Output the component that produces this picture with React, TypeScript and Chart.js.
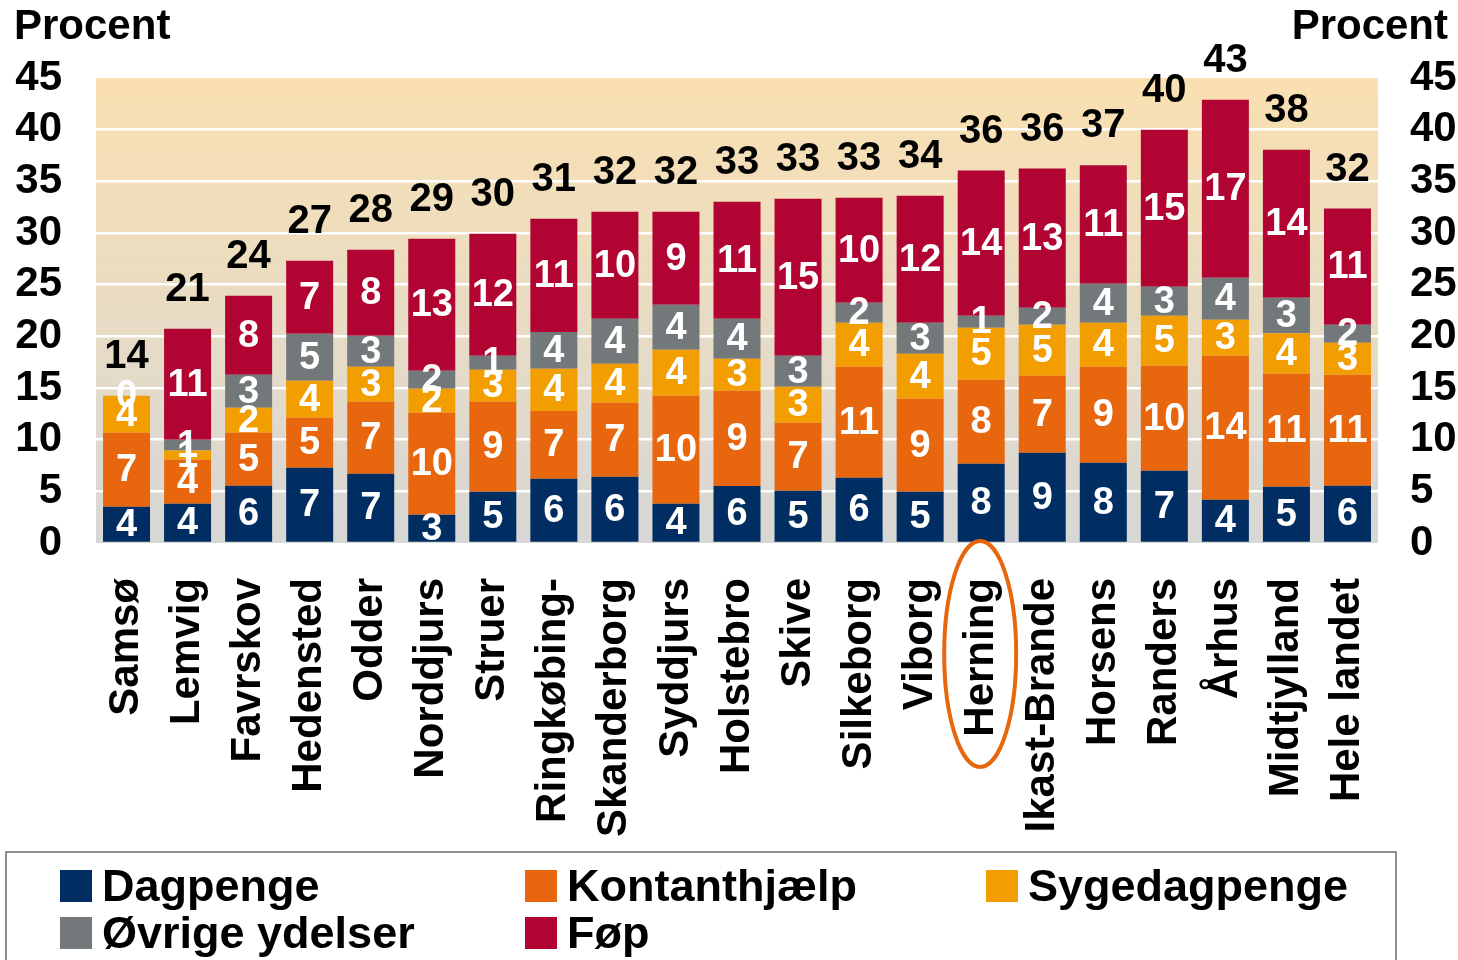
import React, { useEffect, useRef } from 'react';
import { Chart, registerables } from 'chart.js';

Chart.register(...registerables);

const categories = ['Samsø', 'Lemvig', 'Favrskov', 'Hedensted', 'Odder', 'Norddjurs', 'Struer', 'Ringkøbing-', 'Skanderborg', 'Syddjurs', 'Holstebro', 'Skive', 'Silkeborg', 'Viborg', 'Herning', 'Ikast-Brande', 'Horsens', 'Randers', 'Århus', 'Midtjylland', 'Hele landet'];
const dagpenge = [3.52, 3.8, 5.55, 7.29, 6.71, 2.74, 4.97, 6.22, 6.42, 3.8, 5.52, 5.06, 6.32, 4.97, 7.67, 8.74, 7.77, 7.0, 4.19, 5.45, 5.55];
const kontanthjaelp = [7.15, 4.26, 5.12, 4.84, 6.97, 9.87, 8.71, 6.55, 7.16, 10.45, 9.22, 6.58, 10.74, 9.0, 8.13, 7.45, 9.29, 10.16, 13.94, 10.94, 10.74];
const sygedagpenge = [3.58, 0.9, 2.42, 3.58, 3.38, 2.32, 3.09, 4.1, 3.77, 4.45, 3.1, 3.49, 4.26, 4.35, 5.03, 4.94, 4.26, 4.84, 3.48, 3.9, 3.1];
const oevrige = [0, 1.04, 3.2, 4.55, 3.0, 1.75, 1.36, 3.55, 4.35, 4.36, 3.86, 3.0, 1.94, 3.0, 1.17, 1.64, 3.78, 2.81, 4.07, 3.45, 1.74];
const foep = [null, 10.74, 7.64, 7.06, 8.33, 12.77, 11.8, 10.96, 10.36, 9.0, 11.33, 15.19, 10.16, 12.29, 14.04, 13.47, 11.45, 15.19, 17.22, 14.32, 11.23];
const seriesNames = ['Dagpenge', 'Kontanthjælp', 'Sygedagpenge', 'Øvrige ydelser', 'Føp'];
const seriesColors = ['#002E62', '#E8670E', '#F39E00', '#73787B', '#B20433'];
const yMin = 0;
const yMax = 45;
const yStep = 5;
const axisTitle = 'Procent';
const highlighted = 'Herning';

const FONT = "'Liberation Sans', Arial, Helvetica, sans-serif";

export default function App() {
  const ref = useRef<HTMLCanvasElement | null>(null);

  useEffect(() => {
    if (!ref.current) return;
    const seriesData = [dagpenge, kontanthjaelp, sygedagpenge, oevrige, foep];

    const bgPlugin = {
      id: 'bgPlugin',
      beforeDraw(chart: any) {
        const { ctx, chartArea } = chart;
        const { left, right, top, bottom } = chartArea;
        ctx.save();
        ctx.fillStyle = '#ffffff';
        ctx.fillRect(0, 0, chart.width, chart.height);
        const g = ctx.createLinearGradient(0, top, 0, bottom);
        g.addColorStop(0, '#FAE0B1');
        g.addColorStop(1, '#D7D7D6');
        ctx.fillStyle = g;
        ctx.fillRect(left, top, right - left, bottom - top);
        ctx.restore();
      },
    };

    const labelPlugin = {
      id: 'labelPlugin',
      afterDatasetsDraw(chart: any) {
        const { ctx } = chart;
        ctx.save();
        ctx.textAlign = 'center';
        ctx.textBaseline = 'middle';
        ctx.fillStyle = '#ffffff';
        ctx.font = `bold 38px ${FONT}`;
        chart.data.datasets.forEach((ds: any, di: number) => {
          const meta = chart.getDatasetMeta(di);
          meta.data.forEach((bar: any, i: number) => {
            const v = ds.data[i];
            if (v == null) return;
            const p = bar.getProps(['x', 'y', 'base'], true);
            ctx.fillText(String(Math.round(v)), p.x, (p.y + p.base) / 2 + 1);
          });
        });
        // totals
        ctx.fillStyle = '#000000';
        ctx.font = `bold 40px ${FONT}`;
        const yScale = chart.scales.y;
        const xScale = chart.scales.x;
        chart.data.labels.forEach((_: any, i: number) => {
          let tot = 0;
          chart.data.datasets.forEach((ds: any) => {
            const v = ds.data[i];
            if (v != null) tot += v;
          });
          const x = xScale.getPixelForValue(i);
          const y = yScale.getPixelForValue(tot);
          ctx.fillText(String(Math.round(tot)), x, y - 39);
        });
        ctx.restore();
      },
    };

    const overlayPlugin = {
      id: 'overlayPlugin',
      afterDraw(chart: any) {
        const { ctx } = chart;
        ctx.save();
        // axis titles
        ctx.fillStyle = '#000000';
        ctx.font = `bold 42px ${FONT}`;
        ctx.textBaseline = 'alphabetic';
        ctx.textAlign = 'left';
        ctx.fillText(axisTitle, 14, 39);
        ctx.textAlign = 'right';
        ctx.fillText(axisTitle, 1448, 39);

        // highlight ellipse
        const idx = chart.data.labels.indexOf(highlighted);
        if (idx >= 0) {
          const x = chart.scales.x.getPixelForValue(idx);
          ctx.strokeStyle = '#E8670E';
          ctx.lineWidth = 4;
          ctx.beginPath();
          ctx.ellipse(x - 1, 654, 36, 113, 0, 0, Math.PI * 2);
          ctx.stroke();
        }

        // legend box
        ctx.strokeStyle = '#6b6b6b';
        ctx.lineWidth = 1.5;
        ctx.strokeRect(6, 852, 1390, 140);

        const cols = [60, 525, 986];
        const rows = [870, 917];
        ctx.font = `bold 45px ${FONT}`;
        ctx.textAlign = 'left';
        ctx.textBaseline = 'alphabetic';
        chart.data.datasets.forEach((ds: any, i: number) => {
          const c = cols[i % 3];
          const r = rows[Math.floor(i / 3)];
          ctx.fillStyle = ds.backgroundColor;
          ctx.fillRect(c, r, 32, 32);
          ctx.fillStyle = '#000000';
          ctx.fillText(ds.label, c + 42, r + 31);
        });
        ctx.restore();
      },
    };

    const chart = new Chart(ref.current, {
      type: 'bar',
      data: {
        labels: categories,
        datasets: seriesNames.map((name, i) => ({
          label: name,
          data: seriesData[i],
          backgroundColor: seriesColors[i],
          borderWidth: 0,
          barPercentage: 0.77,
          categoryPercentage: 1,
          yAxisID: 'y',
        })),
      },
      options: {
        responsive: false,
        animation: false,
        layout: { padding: { top: 78, left: 0, right: 0, bottom: 0 } },
        plugins: {
          legend: { display: false },
          tooltip: { enabled: false },
        },
        scales: {
          x: {
            stacked: true,
            grid: { display: false, drawTicks: false },
            border: { display: false },
            ticks: {
              autoSkip: false,
              minRotation: 90,
              maxRotation: 90,
              padding: 35,
              color: '#000000',
              font: { family: FONT, size: 42, weight: 'bold' },
            },
            afterFit(scale: any) {
              scale.height = 417;
            },
          },
          y: {
            stacked: true,
            position: 'left',
            min: yMin,
            max: yMax,
            border: { display: false },
            grid: {
              drawTicks: false,
              lineWidth: 2.5,
              color: (ctx: any) => {
                const v = ctx.tick ? ctx.tick.value : 0;
                return v > yMin && v < yMax ? '#ffffff' : 'rgba(0,0,0,0)';
              },
            },
            ticks: {
              stepSize: yStep,
              autoSkip: false,
              padding: 34,
              color: '#000000',
              font: { family: FONT, size: 42, weight: 'bold' },
            },
            afterFit(scale: any) {
              scale.width = 96;
            },
          },
          y2: {
            position: 'right',
            min: yMin,
            max: yMax,
            border: { display: false },
            grid: { display: false, drawTicks: false },
            ticks: {
              stepSize: yStep,
              autoSkip: false,
              padding: 32,
              color: '#000000',
              font: { family: FONT, size: 42, weight: 'bold' },
            },
            afterFit(scale: any) {
              scale.width = 80;
            },
          },
        },
      },
      plugins: [bgPlugin, labelPlugin, overlayPlugin],
    } as any);

    return () => chart.destroy();
  }, []);

  return (
    <div style={{ position: 'absolute', left: 0, top: 0, width: 1458, height: 960 }}>
      <canvas ref={ref} width={1458} height={960} style={{ width: 1458, height: 960, display: 'block' }} />
    </div>
  );
}
